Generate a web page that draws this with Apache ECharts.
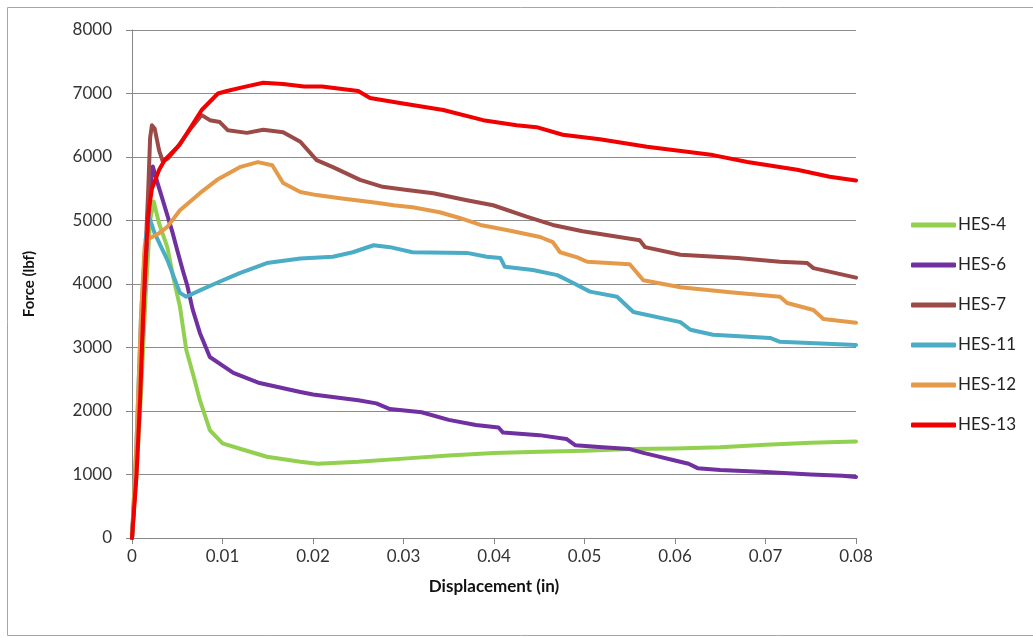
<!DOCTYPE html>
<html>
<head>
<meta charset="utf-8">
<script src="https://cdn.jsdelivr.net/npm/echarts@6/dist/echarts.min.js"></script>
<style>html,body{margin:0;padding:0;background:#fff;}#c{width:1033px;height:638px;}</style>
</head>
<body>
<div id="c"></div>
<script>
const seriesNames = ['HES-4', 'HES-6', 'HES-7', 'HES-11', 'HES-12', 'HES-13'];
const hes4 = [[0,0],[0.0005,1000],[0.001,2300],[0.0015,3800],[0.002,5000],[0.0024,5300],[0.003,4950],[0.0039,4580],[0.0045,4150],[0.0053,3640],[0.006,2960],[0.0068,2550],[0.0075,2170],[0.0086,1700],[0.01,1490],[0.0123,1390],[0.0149,1280],[0.0186,1200],[0.0205,1170],[0.025,1200],[0.03,1250],[0.035,1300],[0.04,1340],[0.045,1360],[0.05,1375],[0.055,1400],[0.06,1410],[0.065,1430],[0.07,1470],[0.075,1500],[0.08,1520]];
const hes6 = [[0,0],[0.0005,1200],[0.001,2800],[0.0015,4300],[0.002,5500],[0.0023,5850],[0.0028,5600],[0.0034,5320],[0.0045,4800],[0.005,4530],[0.0056,4220],[0.0061,3980],[0.0067,3600],[0.0075,3230],[0.0086,2850],[0.0112,2600],[0.0141,2440],[0.0186,2300],[0.02,2260],[0.025,2170],[0.027,2120],[0.0285,2030],[0.032,1980],[0.035,1860],[0.038,1780],[0.0405,1740],[0.041,1660],[0.045,1620],[0.048,1560],[0.049,1460],[0.052,1430],[0.055,1400],[0.0565,1340],[0.058,1290],[0.06,1220],[0.0615,1170],[0.0625,1100],[0.065,1070],[0.07,1040],[0.075,1000],[0.0785,980],[0.08,960]];
const hes7 = [[0,0],[0.0005,1200],[0.001,2800],[0.0014,4200],[0.0018,5500],[0.002,6300],[0.0022,6500],[0.0025,6450],[0.003,6100],[0.0034,5930],[0.004,5980],[0.005,6150],[0.0065,6450],[0.0077,6660],[0.0086,6580],[0.0097,6550],[0.0106,6420],[0.0127,6380],[0.0145,6430],[0.0167,6390],[0.0186,6240],[0.0204,5950],[0.0222,5840],[0.0252,5640],[0.0277,5530],[0.0304,5480],[0.0333,5430],[0.037,5320],[0.0399,5240],[0.0436,5060],[0.0465,4930],[0.0498,4830],[0.0561,4690],[0.0567,4580],[0.0606,4460],[0.0669,4410],[0.0716,4350],[0.0746,4330],[0.0753,4250],[0.08,4100]];
const hes11 = [[0,0],[0.0005,1500],[0.001,3500],[0.0015,4700],[0.0019,5050],[0.0025,4800],[0.0039,4380],[0.0053,3860],[0.006,3800],[0.0075,3900],[0.0094,4020],[0.0119,4170],[0.0149,4330],[0.0186,4400],[0.0222,4430],[0.0244,4500],[0.0267,4610],[0.0285,4580],[0.031,4500],[0.037,4490],[0.0392,4430],[0.0407,4410],[0.0412,4270],[0.0443,4220],[0.047,4140],[0.0487,4020],[0.0506,3880],[0.0536,3800],[0.0554,3560],[0.0606,3400],[0.0617,3280],[0.0642,3200],[0.0705,3150],[0.0716,3090],[0.08,3040]];
const hes12 = [[0,0],[0.0005,1500],[0.001,3500],[0.0014,4600],[0.0017,4700],[0.003,4800],[0.0039,4900],[0.0053,5160],[0.0075,5430],[0.0094,5640],[0.0119,5840],[0.0139,5920],[0.0155,5870],[0.0167,5590],[0.0186,5450],[0.0204,5400],[0.023,5350],[0.027,5280],[0.0289,5240],[0.031,5210],[0.034,5130],[0.0362,5040],[0.0385,4930],[0.0414,4850],[0.0451,4740],[0.0465,4660],[0.0473,4500],[0.0492,4420],[0.0503,4350],[0.055,4310],[0.0565,4060],[0.0606,3950],[0.0661,3870],[0.0716,3800],[0.0724,3700],[0.0753,3590],[0.0764,3450],[0.08,3390]];
const hes13 = [[0,0],[0.0005,1000],[0.0009,2200],[0.0012,3400],[0.0015,4400],[0.0018,5100],[0.0022,5500],[0.003,5800],[0.0036,5950],[0.0053,6200],[0.0077,6740],[0.0095,7000],[0.0105,7040],[0.0123,7100],[0.0145,7170],[0.0167,7150],[0.019,7110],[0.021,7110],[0.025,7040],[0.0263,6930],[0.0296,6850],[0.0344,6740],[0.0388,6580],[0.0425,6500],[0.0447,6470],[0.0476,6350],[0.0517,6280],[0.0569,6160],[0.0642,6030],[0.068,5920],[0.0735,5800],[0.0771,5690],[0.08,5630]];
const seriesData = [hes4, hes6, hes7, hes11, hes12, hes13];
const colors = ['#92D050', '#7030A0', '#9C4A47', '#4BACC6', '#E59A4A', '#F00000'];
const xTicks = { min: 0, max: 0.08, interval: 0.01 };
const yTicks = { min: 0, max: 8000, interval: 1000 };

const FONT = 'Lato';
const chart = echarts.init(document.getElementById('c'), null, { renderer: 'canvas' });
chart.setOption({
  animation: false,
  backgroundColor: '#fff',
  color: colors,
  graphic: [{
    type: 'rect', shape: { x: 7.5, y: 7.5, width: 1040, height: 628 },
    style: { fill: 'none', stroke: '#A6A6A6', lineWidth: 1 }, silent: true, z: -1
  }],
  grid: { left: 132, right: 177, top: 30, bottom: 100, containLabel: false },
  legend: {
    orient: 'vertical', left: 906, top: 210,
    itemWidth: 45, itemHeight: 5, itemGap: 20,
    icon: 'roundRect',
    data: seriesNames,
    textStyle: { fontFamily: FONT, fontSize: 17, color: '#222', padding: [0, 0, 0, -3], lineHeight: 20 }
  },
  xAxis: {
    type: 'value', min: xTicks.min, max: xTicks.max, interval: xTicks.interval,
    name: 'Displacement (in)', nameLocation: 'middle', nameGap: 40,
    nameTextStyle: { fontFamily: FONT, fontSize: 17, fontWeight: 'bold', color: '#111' },
    axisLine: { show: true, lineStyle: { color: '#868686', width: 1 } },
    axisTick: { show: true, inside: false, length: 6, lineStyle: { color: '#868686' } },
    axisLabel: { fontFamily: FONT, fontSize: 17, color: '#333', margin: 10,
      formatter: v => v === 0 ? '0' : v.toFixed(2) },
    splitLine: { show: false }
  },
  yAxis: {
    type: 'value', min: yTicks.min, max: yTicks.max, interval: yTicks.interval,
    name: 'Force (lbf)', nameLocation: 'middle', nameGap: 95, nameRotate: 90,
    nameTextStyle: { fontFamily: FONT, fontSize: 15, fontWeight: 'bold', color: '#111' },
    axisLine: { show: true, lineStyle: { color: '#868686', width: 1 } },
    axisTick: { show: true, inside: false, length: 6, lineStyle: { color: '#868686' } },
    axisLabel: { fontFamily: FONT, fontSize: 17, color: '#333', margin: 20,
      formatter: v => String(v) },
    splitLine: { show: true, lineStyle: { color: '#8C8C8C', width: 1 } }
  },
  series: seriesNames.map((n, i) => ({
    name: n, type: 'line', data: seriesData[i], showSymbol: false, symbol: 'none',
    lineStyle: { width: 4, color: colors[i], cap: 'round', join: 'round' },
    itemStyle: { color: colors[i] }
  }))
});
</script>
</body>
</html>
